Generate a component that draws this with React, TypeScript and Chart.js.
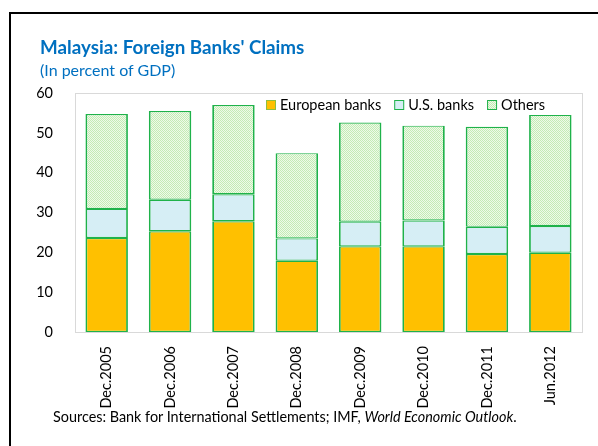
import React, { useEffect, useRef } from "react";
import { Chart, registerables } from "chart.js";
Chart.register(...registerables);

const categories = ["Dec.2005", "Dec.2006", "Dec.2007", "Dec.2008", "Dec.2009", "Dec.2010", "Dec.2011", "Jun.2012"];
const european = [23.6, 25.3, 27.8, 17.9, 21.5, 21.5, 19.6, 19.9];
const usBanks = [7.3, 7.9, 6.8, 5.6, 6.2, 6.5, 6.8, 6.7];
const others = [23.8, 22.3, 22.4, 21.4, 24.9, 23.8, 25.1, 27.9];
const seriesNames = ["European banks", "U.S. banks", "Others"];
const yMin = 0;
const yMax = 60;
const yStep = 10;

const FONT = 'Lato, "Open Sans", sans-serif';
const BORDER = "#1FB24A";

function makePattern(): CanvasPattern | string {
  const c = document.createElement("canvas");
  c.width = 2;
  c.height = 2;
  const g = c.getContext("2d");
  if (!g) return "#DAF3D0";
  g.fillStyle = "#EEFAE9";
  g.fillRect(0, 0, 2, 2);
  g.fillStyle = "#C4EBB5";
  g.fillRect(0, 0, 1, 1);
  g.fillRect(1, 1, 1, 1);
  const p = g.createPattern(c, "repeat");
  return p || "#DAF3D0";
}

export default function App() {
  const ref = useRef<HTMLCanvasElement | null>(null);
  useEffect(() => {
    if (!ref.current) return;
    const pattern = makePattern();
    const fills = ["#FFC000", "#D6EEF5", pattern];

    const framePlugin = {
      id: "frame",
      beforeDatasetsDraw(chart: any) {
        const { ctx, chartArea: a } = chart;
        ctx.save();
        ctx.strokeStyle = "#D9D9D9";
        ctx.lineWidth = 1;
        ctx.strokeRect(Math.round(a.left) + 0.5, Math.round(a.top) + 0.5, Math.round(a.right - a.left), Math.round(a.bottom - a.top));
        ctx.restore();
      },
      afterDraw(chart: any) {
        const { ctx } = chart;
        ctx.save();
        ctx.font = `14.5px ${FONT}`;
        ctx.textBaseline = "middle";
        let x = 266;
        const yc = 105;
        chart.data.datasets.forEach((ds: any, i: number) => {
          ctx.fillStyle = fills[i] as any;
          ctx.fillRect(x, yc - 5, 10, 10);
          ctx.strokeStyle = i === 0 ? "#8FBF3F" : BORDER;
          ctx.lineWidth = 1;
          ctx.strokeRect(x + 0.5, yc - 4.5, 9, 9);
          ctx.fillStyle = "#000";
          ctx.fillText(ds.label, x + 14, yc);
          x += 14 + ctx.measureText(ds.label).width + 13;
        });
        ctx.restore();
      },
    };

    const chart = new Chart(ref.current, {
      type: "bar",
      data: {
        labels: categories,
        datasets: [european, usBanks, others].map((d, i) => ({
          label: seriesNames[i],
          data: d,
          backgroundColor: fills[i] as any,
          borderColor: BORDER,
          borderWidth: { top: 1.2, bottom: 1.2, left: 1.8, right: 1.8 },
          borderSkipped: false,
          barPercentage: 0.67,
          categoryPercentage: 1,
        })),
      },
      options: {
        responsive: false,
        animation: false,
        layout: { padding: { top: 93, right: 16, left: 0, bottom: 0 } },
        plugins: { legend: { display: false }, tooltip: { enabled: false } },
        scales: {
          x: {
            stacked: true,
            grid: { display: false },
            border: { display: false },
            ticks: {
              minRotation: 90,
              maxRotation: 90,
              padding: 6,
              color: "#000",
              font: { family: FONT, size: 14.5 },
            },
            afterFit(s: any) {
              s.height = 114;
            },
          },
          y: {
            stacked: true,
            min: yMin,
            max: yMax,
            grid: { display: false },
            border: { display: false },
            ticks: {
              stepSize: yStep,
              padding: 14,
              color: "#000",
              font: { family: FONT, size: 14.5 },
            },
            afterFit(s: any) {
              s.width = 75;
            },
          },
        },
      },
      plugins: [framePlugin],
    });
    return () => chart.destroy();
  }, []);

  return (
    <div style={{ position: "fixed", left: 0, top: 0, width: 598, height: 446, background: "#fff", overflow: "hidden", fontFamily: FONT }}>
      <div style={{ position: "absolute", left: 8.5, top: 12, width: 700, height: 600, borderLeft: "2.5px solid #000", borderTop: "2.5px solid #000" }} />
      <canvas ref={ref} width={598} height={446} style={{ position: "absolute", left: 0, top: 0, width: 598, height: 446 }} />
      <div style={{ position: "absolute", left: 40, top: 36, fontSize: 18.8, fontWeight: 700, color: "#0070C0", lineHeight: "21px", whiteSpace: "nowrap" }}>
        Malaysia: Foreign Banks' Claims
      </div>
      <div style={{ position: "absolute", left: 40, top: 60, fontSize: 16, color: "#0070C0", lineHeight: "19px", whiteSpace: "nowrap" }}>
        (In percent of GDP)
      </div>
      <div style={{ position: "absolute", left: 53, top: 408, fontSize: 14.4, color: "#000", lineHeight: "18px", whiteSpace: "nowrap" }}>
        Sources: Bank for International Settlements; IMF, <i>World Economic Outlook</i>.
      </div>
    </div>
  );
}
